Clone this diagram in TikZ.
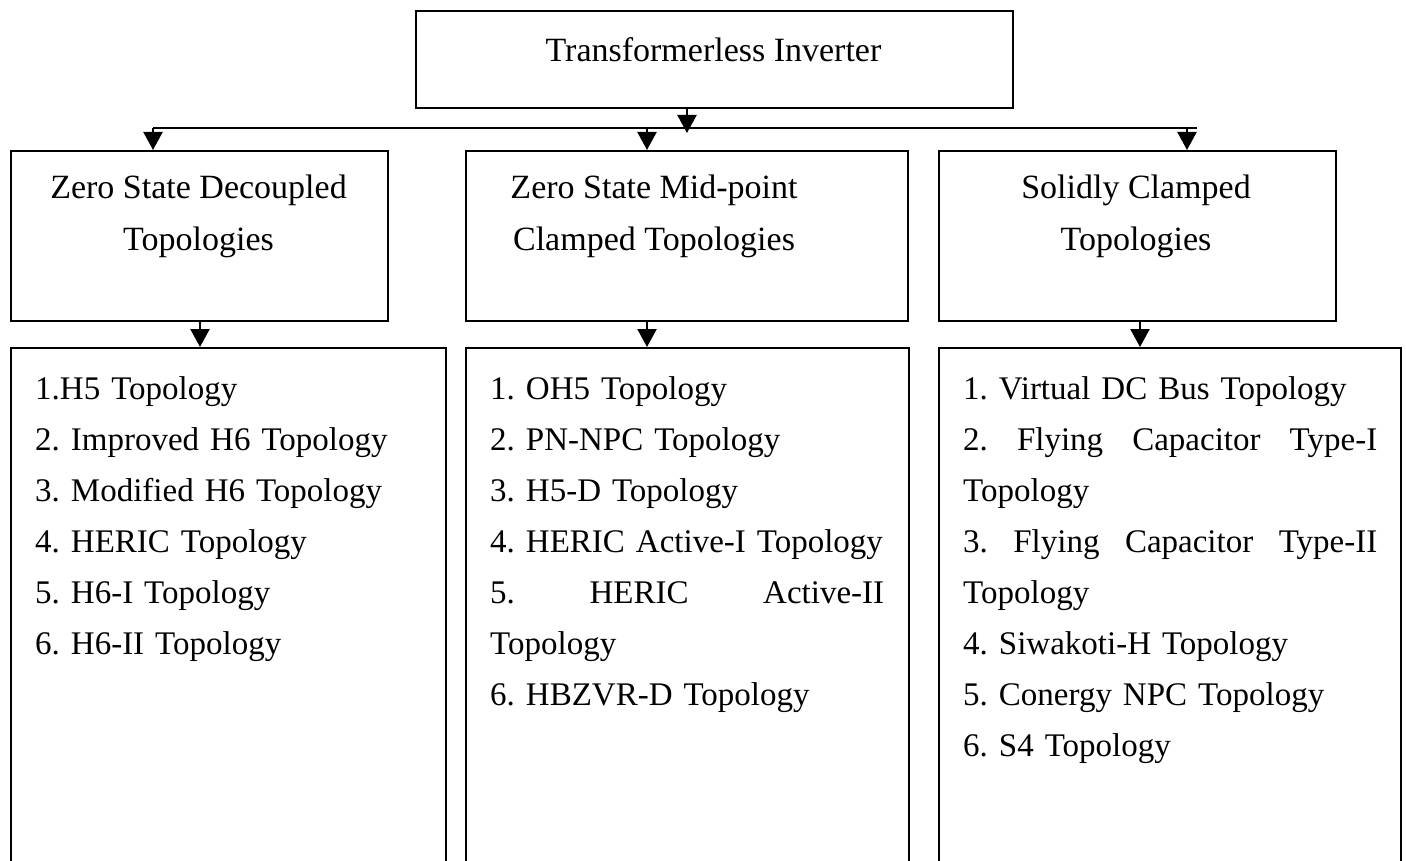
\documentclass[tikz,border=0pt]{standalone}
\usepackage{fontspec}
\setmainfont{Liberation Serif}
\usetikzlibrary{arrows.meta}
\frenchspacing
\hyphenpenalty=10000
\hbadness=10000
\hfuzz=50pt
\tikzset{
  box/.style={draw=black, line width=2.2pt, inner sep=0pt, anchor=north west},
  head/.style={font=\fontsize{34}{52}\selectfont, align=center, inner sep=0pt},
  list/.style={font=\fontsize{33}{51}\selectfont\frenchspacing, align=left, inner sep=0pt, anchor=north west},
  arr/.style={line width=2.2pt, -{Triangle[length=18pt,width=19pt]}},
  bus/.style={line width=2.8pt}
}
\begin{document}
\begin{tikzpicture}[x=1pt,y=-1pt]
\clip (0,0) rectangle (1406,861);
\fill[white] (0,0) rectangle (1406,861);
% boxes
\node[box, minimum width=597pt, minimum height=97pt] (top) at (415,10) {};
\node[box, minimum width=377pt, minimum height=170pt] (m1) at (10,150) {};
\node[box, minimum width=442pt, minimum height=170pt] (m2) at (465,150) {};
\node[box, minimum width=397pt, minimum height=170pt] (m3) at (938,150) {};
\node[box, minimum width=435pt, minimum height=560pt] (b1) at (10,347) {};
\node[box, minimum width=443pt, minimum height=560pt] (b2) at (465,347) {};
\node[box, minimum width=462pt, minimum height=560pt] (b3) at (938,347) {};
% header texts
\node[head] (ttop) at (713.5,50) {Transformerless Inverter};
\node[head] (tm1) at (198.5,216) {Zero State Decoupled\\Topologies};
\node[head] (tm2) at (654,216) {Zero State Mid-point\\Clamped Topologies};
\node[head] (tm3) at (1136,216) {Solidly Clamped\\Topologies};
% lists
\node[list, text width=385pt] (l1) at (35,376) {1.H5 Topology\\
2. Improved H6 Topology\\
3. Modified H6 Topology\\
4. HERIC Topology\\
5. H6-I Topology\\
6. H6-II Topology};
\node[list, text width=394pt] (l2) at (490,376) {1. OH5 Topology\\
2. PN-NPC Topology\\
3. H5-D Topology\\
\mbox{4. HERIC Active-I Topology}\\
5.\hfill HERIC\hfill Active-II\\
Topology\\
6. HBZVR-D Topology};
\node[list, text width=414pt] (l3) at (963,376) {1. Virtual DC Bus Topology\\
2.\hfill Flying\hfill Capacitor\hfill Type-I\\
Topology\\
3.\hfill Flying\hfill Capacitor\hfill Type-II\\
Topology\\
4. Siwakoti-H Topology\\
5. Conergy NPC Topology\\
6. S4 Topology};
% connectors
\coordinate (j) at (687,128);
\coordinate (jt) at (687,133);
\coordinate (bl) at (153,128);
\coordinate (bm) at (647,128);
\coordinate (br) at (1187,128);
\coordinate (be) at (1197,128);
\draw[arr] (top.south -| j) -- (jt);
\draw[bus] (bl) -- (be);
\draw[arr] (bl) -- (m1.north -| bl);
\draw[arr] (bm) -- (m2.north -| bm);
\draw[arr] (br) -- (m3.north -| br);
\coordinate (a1) at (200,0);
\coordinate (a2) at (647,0);
\coordinate (a3) at (1140,0);
\draw[arr] (m1.south -| a1) -- (b1.north -| a1);
\draw[arr] (m2.south -| a2) -- (b2.north -| a2);
\draw[arr] (m3.south -| a3) -- (b3.north -| a3);
\end{tikzpicture}
\end{document}
